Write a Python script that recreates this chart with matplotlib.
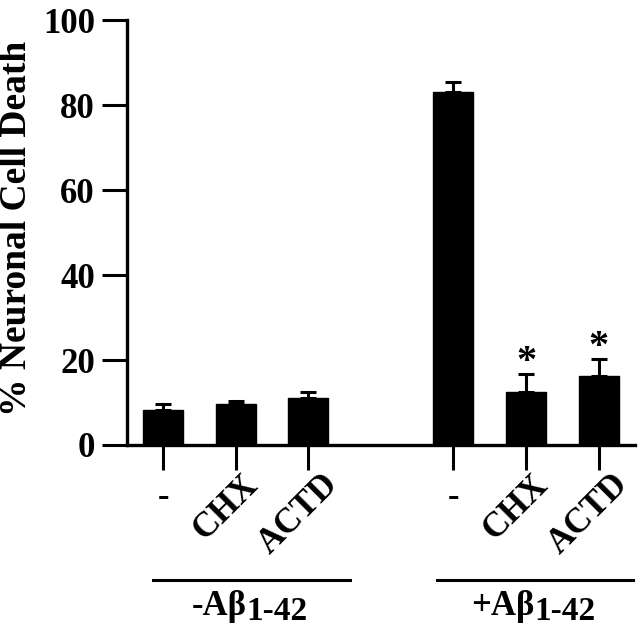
import matplotlib
matplotlib.use("Agg")
import matplotlib.pyplot as plt
import matplotlib.transforms as mtransforms

# values
positions = [0, 1, 2, 4, 5, 6]
treatments = ["-", "CHX", "ACTD", "-", "CHX", "ACTD"]
mean_death = [8.3, 9.6, 11.1, 83.0, 12.5, 16.2]
sem_death = [1.3, 0.7, 1.3, 2.5, 4.2, 4.0]
significant = [False, False, False, False, True, True]
group_names = ["-A\u03b2", "+A\u03b2"]
group_sub = "1-42"
group_spans = [(-0.14, 2.58), (3.78, 6.48)]
group_split = [1.15, 5.12]

plt.rcParams["font.family"] = ["Liberation Serif", "DejaVu Serif"]
plt.rcParams["font.weight"] = "bold"

fig = plt.figure(figsize=(6.4, 6.33), dpi=100)
ax = fig.add_axes([0.198, 0.297, 0.794, 0.671])

ax.bar(positions, mean_death, width=0.55, color="black", edgecolor="black")
ax.errorbar(positions, mean_death, yerr=[[0] * len(sem_death), sem_death],
            fmt="none", ecolor="black", elinewidth=2.2, capsize=6, capthick=2.2)

for x, m, s, sig in zip(positions, mean_death, sem_death, significant):
    if sig:
        ax.text(x, m + s - 1.6, "*", ha="center", va="bottom",
                fontsize=29, fontweight="bold")

ax.set_xlim(-0.5, 6.5)
ax.set_ylim(0, 100)
ax.set_yticks([0, 20, 40, 60, 80, 100])
ax.set_xticks(positions)

ax.tick_params(axis="both", width=2.2, length=18, direction="out")
ax.tick_params(axis="x", pad=8)
ax.tick_params(axis="y", labelsize=25, pad=5)
for lab in ax.get_yticklabels():
    lab.set_fontweight("bold")

ax.set_xticklabels(treatments, ha="center", va="top",
                   fontsize=25, fontweight="bold")
shift = mtransforms.ScaledTranslation(-10 / 100, 13 / 100, fig.dpi_scale_trans)
for lab in ax.get_xticklabels():
    if lab.get_text() != "-":
        lab.set_rotation(45)
        lab.set_transform(lab.get_transform() + shift)

for side in ["top", "right"]:
    ax.spines[side].set_visible(False)
for side in ["left", "bottom"]:
    ax.spines[side].set_linewidth(2.4)

ax.set_ylabel("% Neuronal Cell Death", fontsize=27, fontweight="bold",
              va="center")
ax.yaxis.set_label_coords(-0.217, 0.51)

trans = mtransforms.blended_transform_factory(ax.transData, ax.transAxes)
for name, (x0, x1), xs in zip(group_names, group_spans, group_split):
    ax.plot([x0, x1], [-0.318, -0.318], color="black", lw=2.2,
            transform=trans, clip_on=False)
    ax.text(xs, -0.40, name, transform=trans, ha="right", va="baseline",
            fontsize=25, fontweight="bold")
    ax.text(xs, -0.412, group_sub, transform=trans, ha="left", va="baseline",
            fontsize=24, fontweight="bold")

fig.savefig("out.png", dpi=100)
